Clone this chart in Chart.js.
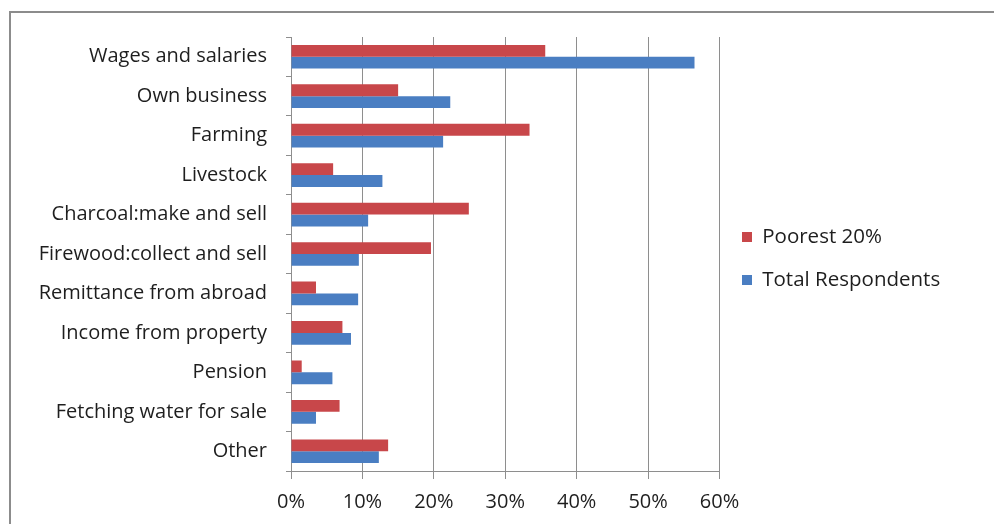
<!DOCTYPE html>
<html><head><meta charset="utf-8">
<script src="https://cdn.jsdelivr.net/npm/chart.js@4/dist/chart.umd.min.js"></script>
<style>
html,body{margin:0;padding:0;background:#fff;width:994px;height:524px;overflow:hidden}
#frame{position:absolute;left:9px;top:11px;width:1000px;height:600px;border-left:2px solid #8c8c8c;border-top:2px solid #8c8c8c}
canvas{position:absolute;left:0;top:0}
</style></head><body>
<div id="frame"></div>
<canvas id="c" width="994" height="524"></canvas>
<script>
const categories = ['Wages and salaries','Own business','Farming','Livestock','Charcoal:make and sell','Firewood:collect and sell','Remittance from abroad','Income from property','Pension','Fetching water for sale','Other'];
const seriesNames = ['Poorest 20%','Total Respondents'];
const poorest20 = [35.6, 15.0, 33.4, 5.9, 24.9, 19.6, 3.5, 7.2, 1.5, 6.8, 13.6];
const totalRespondents = [56.5, 22.3, 21.3, 12.8, 10.8, 9.5, 9.4, 8.4, 5.8, 3.5, 12.3];
const xMin = 0, xMax = 60, xStep = 10;

const FONT = "'Open Sans'";
const FS = 20;
const LFS = 20.5;
const TXT = '#1e1e1e';
const GRID = '#8e8e8e';
const legendPad = 23, legendBox = 10;
const m = document.createElement('canvas').getContext('2d');
m.font = LFS + 'px ' + FONT;
const legendTextW = Math.max(...seriesNames.map(s => m.measureText(s).width));
const plotRight = 719;
const legendW = legendPad + legendBox + LFS / 2 + legendTextW + 10;
const rightPad = Math.max(0, 994 - plotRight - legendW);

new Chart(document.getElementById('c'), {
  type: 'bar',
  data: {
    labels: categories,
    datasets: [
      {label: seriesNames[0], data: poorest20, backgroundColor: '#C8474A', borderWidth: 0},
      {label: seriesNames[1], data: totalRespondents, backgroundColor: '#4A7EC2', borderWidth: 0}
    ]
  },
  options: {
    indexAxis: 'y',
    responsive: false,
    animation: false,
    devicePixelRatio: 1,
    categoryPercentage: 0.6,
    barPercentage: 1,
    layout: {padding: {top: 37, right: rightPad, bottom: 0, left: 0}},
    plugins: {
      tooltip: {enabled: false},
      legend: {
        position: 'right',
        align: 'center',
        fullSize: false,
        title: {display: true, text: ' ', padding: 0, font: {size: 9, lineHeight: 1}},
        labels: {
          boxWidth: legendBox, boxHeight: legendBox, padding: legendPad - 0.5,
          color: TXT, font: {family: FONT, size: LFS}
        }
      }
    },
    scales: {
      x: {
        min: xMin, max: xMax,
        ticks: {stepSize: xStep, color: TXT, font: {family: FONT, size: FS}, padding: 11, callback: v => v + '%'},
        grid: {color: GRID, lineWidth: 1, tickLength: 8, drawTicks: true},
        border: {color: GRID, width: 1},
        afterFit: s => { s.height = 53; }
      },
      y: {
        ticks: {color: TXT, font: {family: FONT, size: FS}, padding: 19},
        grid: {drawOnChartArea: false, drawTicks: true, tickLength: 5, color: GRID, offset: true},
        border: {color: GRID, width: 1},
        afterFit: s => { s.width = 291; }
      }
    }
  }
});
</script>
</body></html>
